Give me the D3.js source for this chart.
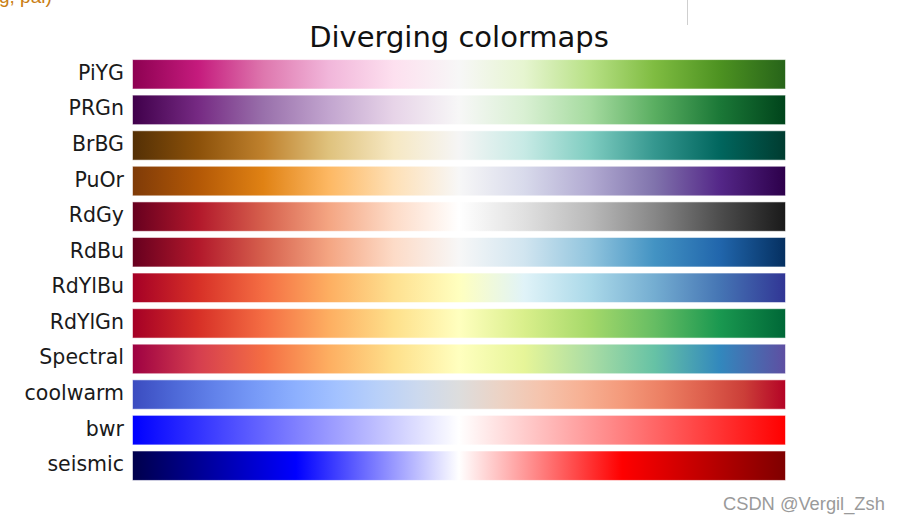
<!DOCTYPE html>
<html>
<head>
<meta charset="utf-8">
<script src="https://cdn.jsdelivr.net/npm/d3@7"></script>
<style>
  body { margin: 0; background: #fff; }
  svg { display: block; }
</style>
</head>
<body>
<svg width="900" height="528"></svg>
<script>
const cmapNames = ['PiYG', 'PRGn', 'BrBG', 'PuOr', 'RdGy', 'RdBu', 'RdYlBu', 'RdYlGn', 'Spectral', 'coolwarm', 'bwr', 'seismic'];

// colorbrewer 11 class stops, evenly spaced
const PiYG = ['#8e0152','#c51b7d','#de77ae','#f1b6da','#fde0ef','#f7f7f7','#e6f5d0','#b8e186','#7fbc41','#4d9221','#276419'];
const PRGn = ['#40004b','#762a83','#9970ab','#c2a5cf','#e7d4e8','#f7f7f7','#d9f0d3','#a6dba0','#5aae61','#1b7837','#00441b'];
const BrBG = ['#543005','#8c510a','#bf812d','#dfc27d','#f6e8c3','#f5f5f5','#c7eae5','#80cdc1','#35978f','#01665e','#003c30'];
const PuOr = ['#7f3b08','#b35806','#e08214','#fdb863','#fee0b6','#f7f7f7','#d8daeb','#b2abd2','#8073ac','#542788','#2d004b'];
const RdGy = ['#67001f','#b2182b','#d6604d','#f4a582','#fddbc7','#ffffff','#e0e0e0','#bababa','#878787','#4d4d4d','#1a1a1a'];
const RdBu = ['#67001f','#b2182b','#d6604d','#f4a582','#fddbc7','#f7f7f7','#d1e5f0','#92c5de','#4393c3','#2166ac','#053061'];
const RdYlBu = ['#a50026','#d73027','#f46d43','#fdae61','#fee090','#ffffbf','#e0f3f8','#abd9e9','#74add1','#4575b4','#313695'];
const RdYlGn = ['#a50026','#d73027','#f46d43','#fdae61','#fee08b','#ffffbf','#d9ef8b','#a6d96a','#66bd63','#1a9850','#006837'];
const Spectral = ['#9e0142','#d53e4f','#f46d43','#fdae61','#fee08b','#ffffbf','#e6f598','#abdda4','#66c2a5','#3288bd','#5e4fa2'];
const coolwarm = ['#3b4cc0','#4d68d7','#6282ea','#779af7','#8db0fe','#a3c2ff','#b8d0f9','#ccd9ee','#dddddd','#ecd3c5','#f5c4ad','#f7b194','#f49a7b','#ec7f63','#de604d','#cb3e38','#b40426'];
const bwr = ['#0000ff','#ffffff','#ff0000'];
const seismic = ['#00004c','#0000ff','#ffffff','#ff0000','#7f0000'];

const cmaps = {PiYG, PRGn, BrBG, PuOr, RdGy, RdBu, RdYlBu, RdYlGn, Spectral, coolwarm, bwr, seismic};

var svg = d3.select('svg');

var x = d3.scaleLinear()
    .domain([0, 1])
    .range([133, 785]);

var y = d3.scaleBand()
    .domain(cmapNames)
    .range([56.5, 483.5])
    .paddingInner(0.2)
    .paddingOuter(0.1);

// bits of the page around the figure
svg.append('text')
    .attr('x', -1)
    .attr('y', 3)
    .attr('font-family', 'Liberation Sans, sans-serif')
    .attr('font-size', 19)
    .attr('fill', '#c97d12')
    .text('g, pal)');

svg.append('line')
    .attr('x1', 687.5).attr('x2', 687.5)
    .attr('y1', 0).attr('y2', 25)
    .attr('stroke', '#cfcfcf');

var defs = svg.append('defs');
cmapNames.forEach(name => {
    let stops = cmaps[name];
    let grad = defs.append('linearGradient')
        .attr('id', 'cm-' + name)
        .attr('gradientUnits', 'userSpaceOnUse')
        .attr('x1', x(0)).attr('x2', x(1))
        .attr('y1', 0).attr('y2', 0);
    grad.selectAll('stop')
        .data(stops)
        .enter().append('stop')
        .attr('offset', (d, i) => i / (stops.length - 1))
        .attr('stop-color', d => d);
});

svg.append('text')
    .attr('x', (x(0) + x(1)) / 2)
    .attr('y', 47)
    .attr('text-anchor', 'middle')
    .attr('font-family', 'DejaVu Sans')
    .attr('font-size', 29)
    .attr('fill', '#111')
    .text('Diverging colormaps');

var rows = svg.append('g')
    .selectAll('g')
    .data(cmapNames)
    .enter().append('g');

rows.append('rect')
    .attr('x', x(0))
    .attr('y', d => y(d))
    .attr('width', x(1) - x(0))
    .attr('height', y.bandwidth())
    .attr('fill', d => 'url(#cm-' + d + ')')
    .attr('stroke', d => 'url(#cm-' + d + ')')
    .attr('stroke-opacity', 0.45)
    .attr('stroke-width', 1);

rows.append('text')
    .attr('x', x(0) - 9)
    .attr('y', d => y(d) + y.bandwidth() / 2 + 5.5)
    .attr('text-anchor', 'end')
    .attr('font-family', 'DejaVu Sans')
    .attr('font-size', 20.5)
    .attr('fill', '#1a1a1a')
    .text(d => d);

svg.append('text')
    .attr('x', 723)
    .attr('y', 510)
    .attr('font-family', 'Liberation Sans, Arial, sans-serif')
    .attr('font-size', 18.3)
    .attr('fill', '#9a9a9a')
    .text('CSDN @Vergil_Zsh');
</script>
</body>
</html>
